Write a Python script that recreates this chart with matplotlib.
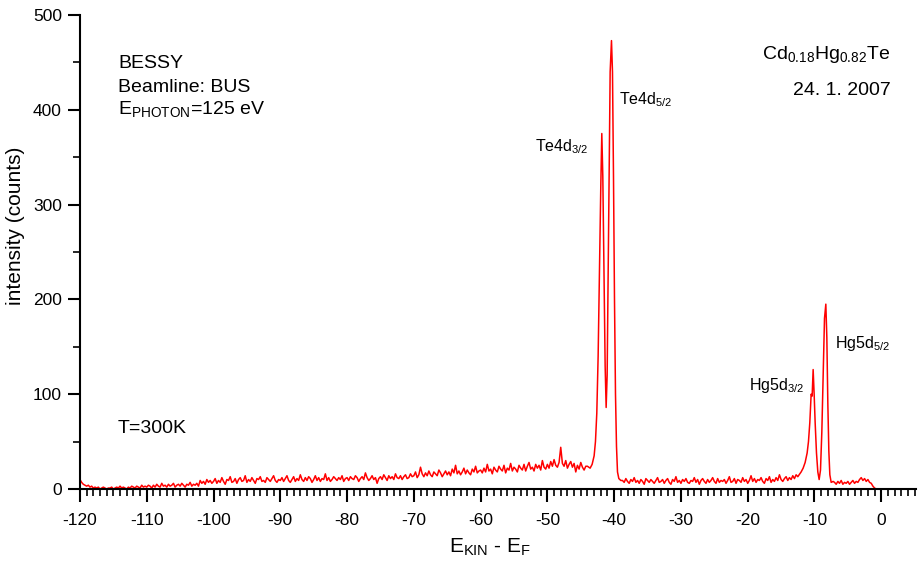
#!/usr/bin/env python3
"""Photoemission spectrum of Cd0.18Hg0.82Te (BESSY, beamline BUS)."""

import numpy as np
import matplotlib
matplotlib.use('Agg')
import matplotlib.pyplot as plt
from matplotlib.ticker import MultipleLocator

plt.rcParams['font.family'] = ['Liberation Sans', 'DejaVu Sans']
plt.rcParams['mathtext.fontset'] = 'custom'
plt.rcParams['mathtext.rm'] = 'Liberation Sans'
plt.rcParams['axes.unicode_minus'] = False

# --- data (counts vs E_kin - E_F) ---
# background on the low-energy side, 0.25 eV steps from -120 to -44.25
bg_low_e = np.arange(-120.0, -44.2, 0.25)
bg_low_c = [10, 7, 5, 4, 3, 4, 2, 3, 1, 2, 1, 2, 0, 1, 2, 1, 0, 1, 1, 2,
            0, 1, 2, 1, 3, 1, 2, 1, 0, 2, 1, 3, 2, 1, 3, 2, 1, 4, 2, 3,
            2, 4, 3, 1, 4, 2, 5, 3, 2, 6, 3, 4, 2, 5, 3, 4, 6, 2, 4, 5,
            3, 6, 4, 2, 5, 4, 7, 3, 5, 4, 6, 3, 9, 6, 8, 5, 10, 7, 9, 6,
            8, 11, 6, 9, 7, 12, 8, 5, 10, 9, 13, 7, 8, 11, 6, 10, 12, 8, 9, 14,
            7, 10, 8, 12, 9, 6, 11, 10, 13, 8, 9, 7, 12, 10, 8, 11, 14, 9, 7, 10,
            9, 12, 8, 11, 14, 9, 7, 10, 13, 8, 11, 9, 15, 10, 8, 12, 9, 13, 11, 7,
            10, 14, 9, 12, 8, 11, 10, 16, 9, 12, 8, 10, 13, 11, 9, 12, 10, 14, 8, 11,
            12, 9, 13, 11, 10, 14, 12, 8, 11, 13, 10, 17, 12, 9, 11, 14, 10, 12, 6, 11,
            13, 10, 15, 12, 9, 14, 11, 13, 10, 16, 12, 11, 14, 10, 13, 15, 11, 12, 16, 13,
            14, 18, 12, 15, 23, 16, 13, 17, 14, 19, 15, 13, 18, 16, 14, 20, 17, 13, 16, 19,
            15, 18, 14, 21, 17, 25, 16, 19, 15, 18, 22, 16, 20, 17, 15, 21, 18, 24, 17, 19,
            20, 17, 22, 18, 26, 19, 21, 16, 23, 20, 18, 24, 21, 19, 25, 17, 22, 20, 27, 19,
            23, 21, 18, 25, 22, 20, 26, 19, 24, 28, 21, 23, 19, 26, 22, 25, 20, 30, 23, 21,
            26, 22, 29, 24, 31, 25, 23, 28, 44, 27, 24, 30, 22, 26, 29, 23, 27, 18, 25, 21,
            28, 23, 20, 24]

# Te 4d doublet
te_e = [-44.0, -43.6, -43.3, -43.0, -42.8, -42.6, -42.4, -42.2, -42.0, -41.85,
        -41.7, -41.5, -41.35, -41.2, -41.05, -40.9, -40.75, -40.6, -40.4, -40.25,
        -40.1, -39.95, -39.8, -39.65, -39.5, -39.3, -39.0]
te_c = [24, 22, 26, 35, 50, 80, 140, 230, 320, 375,
        330, 220, 130, 86, 120, 230, 350, 440, 473, 440,
        330, 200, 100, 45, 18, 11, 9]

# flat region between the doublets, 0.25 eV steps from -38.75 to -12.5
bg_mid_e = np.arange(-38.75, -12.4, 0.25)
bg_mid_c = [9, 7, 11, 8, 6, 10, 8, 12, 7, 9, 6, 10, 8, 5, 11, 9, 7, 10, 8, 6,
            9, 12, 7, 8, 10, 6, 9, 11, 7, 5, 10, 8, 13, 7, 9, 6, 10, 8, 11, 7,
            6, 9, 8, 12, 7, 10, 5, 9, 11, 8, 6, 10, 7, 9, 12, 8, 6, 11, 7, 9,
            8, 10, 6, 9, 13, 7, 8, 11, 6, 10, 9, 7, 12, 8, 10, 6, 9, 14, 8, 11,
            7, 10, 9, 12, 8, 6, 11, 9, 13, 7, 10, 8, 12, 9, 15, 10, 8, 11, 13, 9,
            12, 10, 14, 11, 15, 13]

# Hg 5d doublet
hg_e = [-12.2, -12.0, -11.7, -11.4, -11.1, -10.9, -10.7, -10.5, -10.35, -10.2,
        -10.05, -9.9, -9.7, -9.5, -9.3, -9.1, -8.9, -8.7, -8.5, -8.3,
        -8.15, -8.0, -7.85, -7.7, -7.5, -7.2]
hg_c = [16, 18, 22, 28, 38, 50, 70, 100, 98, 126,
        100, 70, 38, 18, 10, 20, 60, 120, 180, 195,
        160, 90, 40, 15, 7, 8]

# valence band tail up to the Fermi edge and beyond, 0.25 eV steps
bg_high_e = np.arange(-7.0, 5.1, 0.25)
bg_high_c = [7, 5, 8, 6, 9, 5, 7, 6, 8, 5, 7, 9, 6, 8, 7, 10, 12, 9, 11, 8,
             10, 7, 6, 3, 1, 0, 0, 0, 0, 0, 0, 0, 0, 0, 0, 0, 0, 0, 0, 0,
             0, 0, 0, 0, 0, 0, 0, 0, 0]

energy = np.concatenate([bg_low_e, te_e, bg_mid_e, hg_e, bg_high_e])
counts = np.concatenate([bg_low_c, te_c, bg_mid_c, hg_c, bg_high_c])


def main():
    fig = plt.figure(figsize=(9.18, 5.71), dpi=100)
    ax = fig.add_axes([0.0871, 0.1436, 0.9107, 0.8301])

    ax.plot(energy, counts, color='#ff0000', lw=1.1)

    ax.set_xlim(-120, 5.2)
    ax.set_ylim(0, 500)

    for side in ('top', 'right'):
        ax.spines[side].set_visible(False)
    for side in ('left', 'bottom'):
        ax.spines[side].set_linewidth(1.5)

    ax.xaxis.set_major_locator(MultipleLocator(10))
    ax.xaxis.set_minor_locator(MultipleLocator(1))
    ax.yaxis.set_major_locator(MultipleLocator(100))
    ax.yaxis.set_minor_locator(MultipleLocator(50))
    ax.tick_params(which='major', direction='out', length=9, width=1.5,
                   labelsize=12.5, pad=4)
    ax.tick_params(which='minor', direction='out', length=5, width=1.2)
    ax.tick_params(axis='x', pad=8)

    ax.set_ylabel('intensity (counts)', fontsize=15)
    ax.yaxis.set_label_coords(-0.066, 0.555)
    ax.set_xlabel(r'E$_{\mathregular{KIN}}$ - E$_{\mathregular{F}}$', fontsize=15)
    ax.xaxis.set_label_coords(0.49, -0.10)

    big = 14
    ax.text(-114.3, 449, 'BESSY', fontsize=big, va='center')
    ax.text(-114.3, 424, 'Beamline: BUS', fontsize=big, va='center')
    ax.text(-114.3, 400, r'E$_{\mathregular{PHOTON}}$=125 eV', fontsize=big, va='center')
    ax.text(-114.3, 64, 'T=300K', fontsize=big, va='center')
    ax.text(1.35, 458, r'Cd$_{\mathregular{0.18}}$Hg$_{\mathregular{0.82}}$Te',
            fontsize=big, ha='right', va='center')
    ax.text(1.35, 420, '24. 1. 2007', fontsize=big, ha='right', va='center')

    small = 11.5
    ax.text(-51.8, 361, r'Te4d$_{\mathregular{3/2}}$', fontsize=small, va='center')
    ax.text(-39.25, 411, r'Te4d$_{\mathregular{5/2}}$', fontsize=small, va='center')
    ax.text(-19.8, 109, r'Hg5d$_{\mathregular{3/2}}$', fontsize=small, va='center')
    ax.text(-6.9, 154, r'Hg5d$_{\mathregular{5/2}}$', fontsize=small, va='center')

    fig.savefig('out.png', dpi=100)
    plt.close(fig)


if __name__ == '__main__':
    main()
